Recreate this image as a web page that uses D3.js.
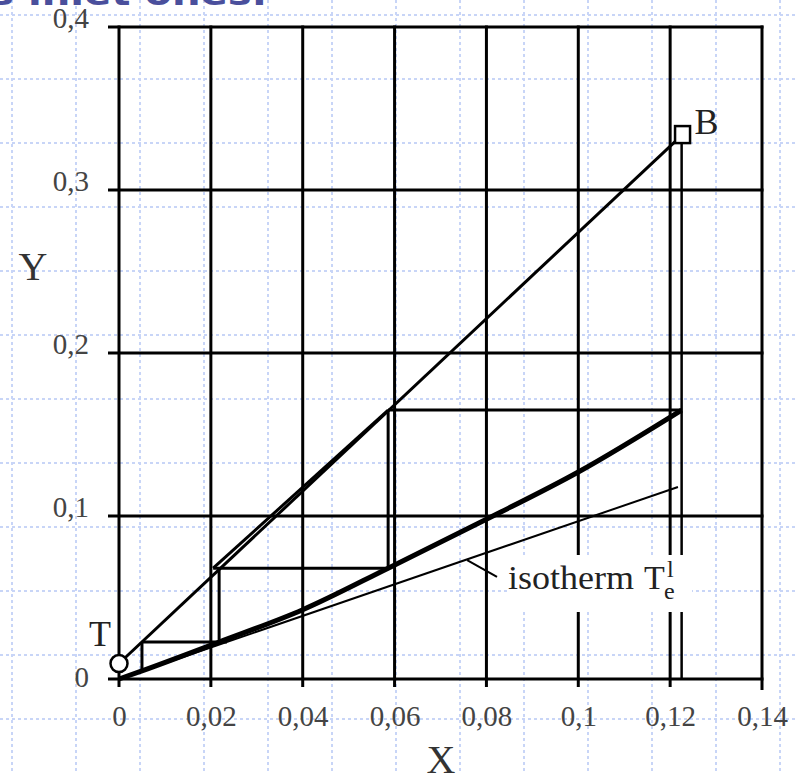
<!DOCTYPE html>
<html>
<head>
<meta charset="utf-8">
<script src="https://cdn.jsdelivr.net/npm/d3@7"></script>
<style>
  html, body { margin: 0; padding: 0; background: #ffffff; }
  svg { display: block; }
</style>
</head>
<body>
<svg id="chart" width="796" height="773"></svg>
<script>
// ---------------- data ----------------
const xTicks = [0, 0.02, 0.04, 0.06, 0.08, 0.1, 0.12, 0.14];
const xTickLabels = ["0", "0,02", "0,04", "0,06", "0,08", "0,1", "0,12", "0,14"];
const yTicks = [0, 0.1, 0.2, 0.3, 0.4];
const yTickLabels = ["0", "0,1", "0,2", "0,3", "0,4"];

// equilibrium curve (thick)
const equilibriumX = [0, 0.005, 0.0218, 0.04, 0.0586, 0.08, 0.1, 0.1225];
const equilibriumY = [0, 0.005, 0.0227, 0.0425, 0.068, 0.098, 0.127, 0.165];

// operating line T -> B
const operatingX = [0, 0.1227];
const operatingY = [0.0095, 0.334];

// isotherm T_e^l
const isothermX = [0, 0.1217];
const isothermY = [0, 0.1178];

// staircase segments
const stepX1 = [0.1225, 0.0586, 0.0586, 0.0205, 0.0218, 0.0235, 0.005];
const stepY1 = [0.165, 0.165, 0.165, 0.068, 0.068, 0.0227, 0.0227];
const stepX2 = [0.0586, 0.0586, 0.0205, 0.0586, 0.0218, 0.005, 0.005];
const stepY2 = [0.165, 0.068, 0.068, 0.068, 0.0227, 0.0227, 0.005];

// drop line from B to X axis
const dropX = [0.1225, 0.1225];
const dropY = [0.334, 0];

// label leader line
const leaderX = [0.0758, 0.0823];
const leaderY = [0.0729, 0.0626];

// point labels
const pointNames = ["T", "B"];
const pointX = [0, 0.1227];
const pointY = [0.0095, 0.334];

const titleText = "s inlet ones.";
const xTitle = "X";
const yTitle = "Y";

// ---------------- drawing ----------------
const svg = d3.select("#chart");
const W = 796, H = 773;

// slide background dotted grid
const bg = svg.append("g");
d3.range(12, W, 64).forEach(px => {
  bg.append("line").attr("x1", px).attr("x2", px).attr("y1", 0).attr("y2", H)
    .attr("stroke", "#c8d5f7").attr("stroke-width", 2).attr("stroke-dasharray", "3,3");
});
d3.range(15, H, 64).forEach(py => {
  bg.append("line").attr("x1", 0).attr("x2", W).attr("y1", py).attr("y2", py)
    .attr("stroke", "#c8d5f7").attr("stroke-width", 2).attr("stroke-dasharray", "3,3");
});

// title (cut off at top)
svg.append("text").attr("x", -10).attr("y", 5)
  .attr("font-family", "DejaVu Sans, Verdana, sans-serif").attr("font-weight", "bold")
  .attr("font-size", 34).attr("fill", "#4a4f9c")
  .attr("textLength", 277).attr("lengthAdjust", "spacingAndGlyphs")
  .text(titleText);

const x = d3.scaleLinear().domain([0, 0.14]).range([119, 762]);
const y = d3.scaleLinear().domain([0, 0.4]).range([679, 27]);

const serif = "Liberation Serif, Times New Roman, serif";

// grid lines
const grid = svg.append("g").attr("stroke", "#000").attr("stroke-width", 3);
xTicks.forEach((t, i) => {
  grid.append("line").attr("x1", x(t)).attr("x2", x(t))
    .attr("y1", y(0.4) - 1.5).attr("y2", y(0) + (i === xTicks.length - 1 ? 11 : 8));
});
yTicks.forEach(t => {
  grid.append("line").attr("x1", x(0) - 11).attr("x2", x(0.14) + 1.5)
    .attr("y1", y(t)).attr("y2", y(t));
});

// axes (labels only)
const xAxis = svg.append("g").attr("transform", `translate(0,${y(0)})`)
  .call(d3.axisBottom(x).tickValues(xTicks).tickSize(0)
    .tickFormat((d, i) => xTickLabels[i]));
xAxis.select(".domain").remove();
xAxis.selectAll("text").attr("y", 47).attr("dy", 0)
  .attr("font-family", serif).attr("font-size", 29).attr("fill", "#444");

const yAxis = svg.append("g").attr("transform", `translate(${x(0)},0)`)
  .call(d3.axisLeft(y).tickValues(yTicks).tickSize(0)
    .tickFormat((d, i) => yTickLabels[i]));
yAxis.select(".domain").remove();
yAxis.selectAll("text").attr("x", -30).attr("dy", (d, i) => i === 0 ? 7 : 0)
  .attr("font-family", serif).attr("font-size", 29).attr("fill", "#444");

// axis titles
svg.append("text").attr("x", 33).attr("y", 280).attr("text-anchor", "middle")
  .attr("font-family", serif).attr("font-size", 40).attr("fill", "#333").text(yTitle);
svg.append("text").attr("x", 441).attr("y", 773).attr("text-anchor", "middle")
  .attr("font-family", serif).attr("font-size", 40).attr("fill", "#333").text(xTitle);

const line = d3.line().x(d => x(d[0])).y(d => y(d[1]));

// isotherm
svg.append("path").attr("d", line(d3.zip(isothermX, isothermY)))
  .attr("fill", "none").attr("stroke", "#000").attr("stroke-width", 2);

// equilibrium curve
svg.append("path")
  .attr("d", d3.line().x(d => x(d[0])).y(d => y(d[1])).curve(d3.curveMonotoneX)(d3.zip(equilibriumX, equilibriumY)))
  .attr("fill", "none").attr("stroke", "#000").attr("stroke-width", 5);

// operating line
svg.append("path").attr("d", line(d3.zip(operatingX, operatingY)))
  .attr("fill", "none").attr("stroke", "#000").attr("stroke-width", 3);

// steps
stepX1.forEach((v, i) => {
  svg.append("line").attr("x1", x(v)).attr("y1", y(stepY1[i]))
    .attr("x2", x(stepX2[i])).attr("y2", y(stepY2[i]))
    .attr("stroke", "#000").attr("stroke-width", 3);
});

// drop line
svg.append("path").attr("d", line(d3.zip(dropX, dropY)))
  .attr("fill", "none").attr("stroke", "#000").attr("stroke-width", 2.5);

// leader
svg.append("path").attr("d", line(d3.zip(leaderX, leaderY)))
  .attr("fill", "none").attr("stroke", "#000").attr("stroke-width", 2);

// markers
svg.append("circle").attr("cx", x(pointX[0])).attr("cy", y(pointY[0])).attr("r", 8.5)
  .attr("fill", "#fff").attr("stroke", "#000").attr("stroke-width", 2.5);
svg.append("rect").attr("x", x(pointX[1]) - 7.5).attr("y", y(pointY[1]) - 8.5)
  .attr("width", 15).attr("height", 17)
  .attr("fill", "#fff").attr("stroke", "#000").attr("stroke-width", 2.5);

// point labels
svg.append("text").attr("x", x(pointX[0]) - 19).attr("y", y(pointY[0]) - 18)
  .attr("text-anchor", "middle").attr("font-family", serif).attr("font-size", 36)
  .attr("fill", "#222").text(pointNames[0]);
svg.append("text").attr("x", x(pointX[1]) + 12).attr("y", y(pointY[1]) - 1)
  .attr("font-family", serif).attr("font-size", 36)
  .attr("fill", "#222").text(pointNames[1]);

// isotherm label with white box
svg.append("rect").attr("x", 507).attr("y", 555).attr("width", 185).attr("height", 57).attr("fill", "#fff");
svg.append("text").attr("x", 508).attr("y", 589)
  .attr("font-family", serif).attr("font-size", 34).attr("fill", "#222")
  .attr("textLength", 126).attr("lengthAdjust", "spacingAndGlyphs")
  .text("isotherm");
const lab = svg.append("text").attr("x", 644).attr("y", 589)
  .attr("font-family", serif).attr("font-size", 34).attr("fill", "#222");
lab.append("tspan").text("T");
lab.append("tspan").attr("x", 664).attr("dy", 10).attr("font-size", 24).text("e");
lab.append("tspan").attr("x", 667).attr("dy", -22).attr("font-size", 24).text("l");
</script>
</body>
</html>
